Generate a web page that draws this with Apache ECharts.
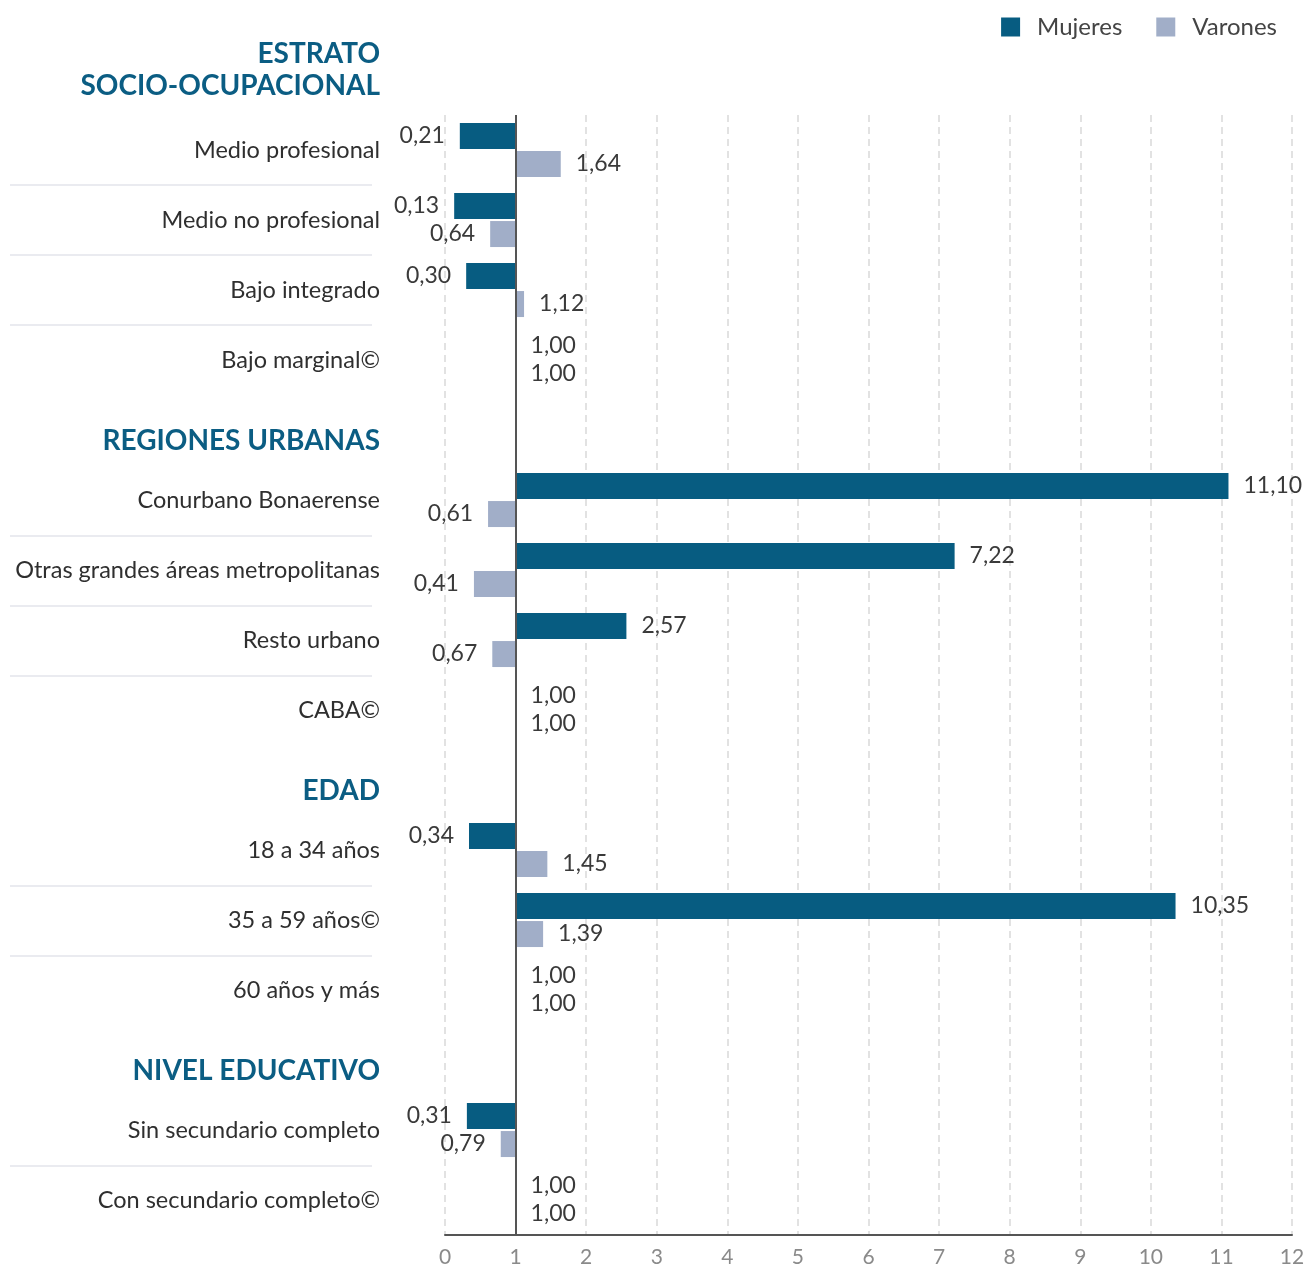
<!DOCTYPE html>
<html>
<head>
<meta charset="utf-8">
<script src="https://cdn.jsdelivr.net/npm/echarts@6/dist/echarts.min.js"></script>
<style>
  html, body { margin: 0; padding: 0; background: #fff; }
  #chart { width: 1308px; height: 1268px; }
</style>
</head>
<body>
<div id="chart"></div>
<script>
// rows of the chart, top to bottom (first group title is drawn above the grid)
const firstHeader = 'ESTRATO\nSOCIO-OCUPACIONAL';
const categories = [
  'Medio profesional', 'Medio no profesional', 'Bajo integrado', 'Bajo marginal©',
  'REGIONES URBANAS',
  'Conurbano Bonaerense', 'Otras grandes áreas metropolitanas', 'Resto urbano', 'CABA©',
  'EDAD',
  '18 a 34 años', '35 a 59 años©', '60 años y más',
  'NIVEL EDUCATIVO',
  'Sin secundario completo', 'Con secundario completo©'
];
const headers = ['REGIONES URBANAS', 'EDAD', 'NIVEL EDUCATIVO'];
const mujeres = [0.21, 0.13, 0.30, 1.00, null, 11.10, 7.22, 2.57, 1.00, null, 0.34, 10.35, 1.00, null, 0.31, 1.00];
const varones = [1.64, 0.64, 1.12, 1.00, null, 0.61, 0.41, 0.67, 1.00, null, 1.45, 1.39, 1.00, null, 0.79, 1.00];
const refValue = 1;
const xTicks = [0, 12, 1]; // min, max, interval

const blue = '#075c81';
const grey = '#a1aec8';
const headColor = '#0b5d83';

function fmt(v) {
  return v.toFixed(2).replace('.', ',');
}
function baseData(arr) {
  return arr.map(v => (v == null ? '-' : Math.min(v, refValue)));
}
function deltaData(arr) {
  return arr.map(v => {
    if (v == null) return '-';
    return {
      value: Math.abs(v - refValue),
      label: { position: v < refValue ? 'left' : 'right' }
    };
  });
}
function barLabel(arr) {
  return {
    show: true,
    distance: 15,
    fontSize: 23,
    color: '#3a3a3a',
    fontFamily: 'Lato',
    formatter: p => fmt(arr[p.dataIndex])
  };
}

const chart = echarts.init(document.getElementById('chart'));
chart.setOption({
  animation: false,
  textStyle: { fontFamily: 'Lato' },
  title: {
    text: firstHeader,
    left: 380,
    top: 38,
    padding: 0,
    textAlign: 'right',
    textStyle: {
      color: headColor,
      fontSize: 28,
      fontWeight: 'bold',
      fontFamily: 'Lato',
      lineHeight: 32
    }
  },
  legend: {
    data: ['Mujeres', 'Varones'],
    right: 26,
    top: 10,
    icon: 'rect',
    itemWidth: 19,
    itemHeight: 19,
    itemGap: 34,
    textStyle: { fontSize: 24, color: '#444', padding: [0, 0, 0, 12] }
  },
  grid: [
    { left: 445, right: 16, top: 115, bottom: 32 },
    { left: 10, width: 362, top: 115, bottom: 32 }
  ],
  xAxis: [{
    type: 'value',
    min: xTicks[0],
    max: xTicks[1],
    interval: xTicks[2],
    axisLine: { show: true, lineStyle: { color: '#555', width: 2 } },
    axisTick: { show: false },
    axisLabel: { fontSize: 21, color: '#8a8a8a', margin: 12 },
    splitLine: { show: true, lineStyle: { color: '#d9d9d9', width: 1.5, type: [7, 5] } }
  }, {
    type: 'value',
    gridIndex: 1,
    show: false
  }],
  yAxis: [{
    type: 'category',
    data: categories,
    inverse: true,
    axisLine: { show: false, onZero: false },
    axisTick: { show: false },
    axisLabel: {
      margin: 65,
      formatter: v => (headers.includes(v) ? '{h|' + v + '}' : '{c|' + v + '}'),
      rich: {
        c: { fontSize: 23.5, color: '#2f2f2f', fontFamily: 'Lato' },
        h: { fontSize: 28, fontWeight: 'bold', color: headColor, fontFamily: 'Lato', padding: [22, 0, 0, 0] }
      }
    },
    splitLine: { show: false }
  }, {
    // separators in the label column
    type: 'category',
    gridIndex: 1,
    data: categories,
    inverse: true,
    axisLine: { show: false, onZero: false },
    axisTick: { show: false },
    axisLabel: { show: false },
    splitLine: {
      show: true,
      showMaxLine: false,
      interval: i => i > 0 && i < categories.length &&
        !headers.includes(categories[i]) && !headers.includes(categories[i - 1]),
      lineStyle: { color: '#e3e4eb', width: 1.5 }
    }
  }],
  series: [
    {
      name: 'baseM',
      type: 'bar',
      stack: 'm',
      silent: true,
      barWidth: 26,
      barGap: '8%',
      itemStyle: { color: 'transparent' },
      data: baseData(mujeres)
    },
    {
      name: 'Mujeres',
      type: 'bar',
      stack: 'm',
      barWidth: 26,
      barGap: '8%',
      itemStyle: { color: blue },
      label: barLabel(mujeres),
      data: deltaData(mujeres),
      markLine: {
        silent: true,
        symbol: 'none',
        label: { show: false },
        lineStyle: { color: '#555', width: 2, type: 'solid' },
        data: [{ xAxis: refValue }]
      }
    },
    {
      name: 'baseV',
      type: 'bar',
      stack: 'v',
      silent: true,
      barWidth: 26,
      barGap: '8%',
      itemStyle: { color: 'transparent' },
      data: baseData(varones)
    },
    {
      name: 'Varones',
      type: 'bar',
      stack: 'v',
      barWidth: 26,
      barGap: '8%',
      itemStyle: { color: grey },
      label: barLabel(varones),
      data: deltaData(varones)
    }
  ]
});
</script>
</body>
</html>
